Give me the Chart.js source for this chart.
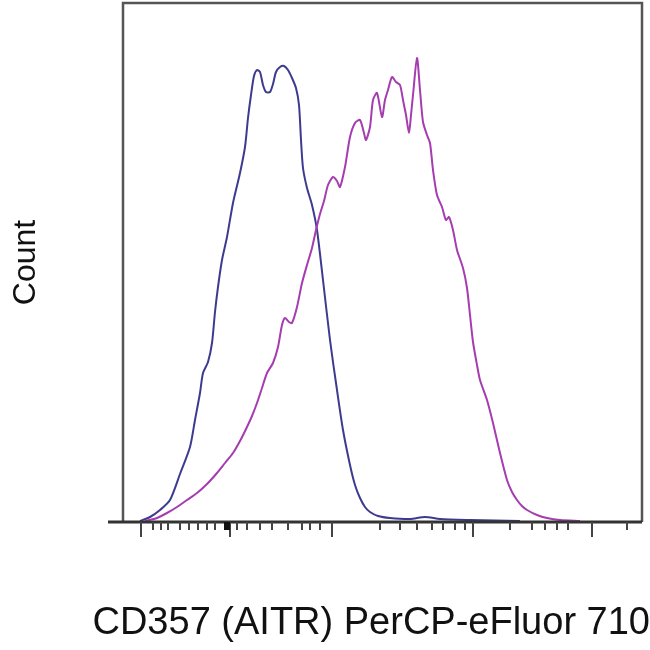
<!DOCTYPE html>
<html>
<head>
<meta charset="utf-8">
<script src="https://cdn.jsdelivr.net/npm/chart.js@4"></script>
<style>
  html, body { margin: 0; padding: 0; background: #fff; }
  #wrap { width: 650px; height: 650px; }
</style>
</head>
<body>
<div id="wrap"><canvas id="chart"></canvas></div>
<script>
// 1. 데이터: 채널(x) / 카운트(y)
const blueX = [17, 27, 37, 47, 57, 67, 72, 77, 80, 85, 89, 92, 95, 99, 104, 110, 117, 122, 125, 128, 131, 134, 137, 140, 143, 147, 150, 153, 157, 161, 165, 169, 173, 176, 178, 180, 184, 189, 194, 200, 207, 214, 220, 227, 232, 237, 242, 247, 255, 267, 287, 302, 317, 347, 397];
const blueY = [1, 5, 12, 22, 48, 75, 102, 129, 149, 160, 179, 210, 235, 262, 285, 319, 349, 375, 404, 427, 446, 452, 450, 437, 430, 430, 438, 450, 455, 456, 452, 444, 434, 417, 382, 354, 334, 317, 292, 242, 182, 132, 92, 57, 37, 24, 15, 10, 6, 4, 3, 5, 3, 2, 1];

const purpleX = [22, 34, 44, 54, 64, 74, 84, 94, 102, 110, 117, 124, 129, 134, 139, 144, 150, 155, 159, 162, 166, 169, 174, 179, 184, 189, 193, 197, 201, 205, 210, 214, 217, 222, 227, 232, 237, 241, 243, 247, 250, 254, 259, 262, 265, 269, 273, 277, 280, 283, 286, 288, 290, 294, 297, 300, 304, 307, 310, 314, 319, 323, 326, 330, 334, 340, 344, 347, 350, 354, 357, 364, 370, 377, 384, 389, 394, 399, 404, 414, 424, 437, 457];
const purpleY = [1, 4, 9, 15, 22, 29, 38, 49, 59, 69, 81, 95, 106, 119, 134, 149, 159, 175, 197, 204, 200, 199, 215, 239, 257, 274, 292, 308, 321, 337, 345, 341, 335, 355, 385, 399, 402, 389, 382, 395, 422, 429, 405, 422, 432, 445, 440, 437, 422, 407, 389, 407, 427, 464, 432, 400, 387, 379, 352, 327, 315, 302, 305, 292, 272, 254, 234, 207, 180, 157, 142, 122, 99, 69, 42, 30, 22, 16, 12, 7, 4, 2, 1];

// 눈금 위치 (채널 단위)
const majorTicks = [18, 107, 209, 350, 469];
const minorTicks = [30, 38, 45, 57, 66, 75, 84, 92, 114, 124, 137, 149, 165, 179, 187, 197, 257, 277, 294, 309, 320, 332, 342, 387, 409, 422, 434, 445, 504];
const markTicks = [107]; // 굵은 검은 표시

const xTitle = "CD357 (AITR) PerCP-eFluor 710";
const yTitle = "Count";

function toPoints(xs, ys) {
    return xs.map((x, i) => ({x: x, y: ys[i]}));
}

// 2. 테두리와 x축 눈금 그리기
const framePlugin = {
    id: "frame",
    afterDraw(chart) {
        const {ctx, chartArea: a, scales} = chart;
        ctx.save();
        ctx.strokeStyle = "#555";
        ctx.lineWidth = 2.5;
        ctx.beginPath();
        ctx.moveTo(a.left, a.bottom);
        ctx.lineTo(a.left, a.top);
        ctx.lineTo(a.right, a.top);
        ctx.lineTo(a.right, a.bottom);
        ctx.stroke();

        // 아래 축선 (왼쪽으로 조금 더 길게)
        ctx.strokeStyle = "#333";
        ctx.lineWidth = 3;
        ctx.beginPath();
        ctx.moveTo(a.left - 15, a.bottom);
        ctx.lineTo(a.right, a.bottom);
        ctx.stroke();

        const drawTick = (v, len, w, color) => {
            const px = scales.x.getPixelForValue(v);
            ctx.strokeStyle = color;
            ctx.lineWidth = w;
            ctx.beginPath();
            ctx.moveTo(px, a.bottom);
            ctx.lineTo(px, a.bottom + len);
            ctx.stroke();
        };
        majorTicks.forEach(v => drawTick(v, 15, 2, "#444"));
        minorTicks.forEach(v => drawTick(v, 8, 2, "#444"));
        markTicks.forEach(v => drawTick(v - 3, 8, 6, "#111"));
        ctx.restore();
    }
};

new Chart(document.querySelector("#chart"), {
    type: "line",
    data: {
        datasets: [
            {
                data: toPoints(purpleX, purpleY),
                borderColor: "#a53caf", borderWidth: 2,
                pointRadius: 0, tension: 0.25,
            },
            {
                data: toPoints(blueX, blueY),
                borderColor: "#3d3b8f", borderWidth: 2,
                pointRadius: 0, tension: 0.25,
            },
        ],
    },
    options: {
        responsive: true,
        maintainAspectRatio: false,
        animation: false,
        layout: {padding: {top: 3, right: 0, left: 0, bottom: 0}},
        plugins: {
            legend: {display: false},
            tooltip: {enabled: false},
            // x축 이름: 캔버스 전체 폭을 쓰도록 제목 플러그인 사용
            title: {
                display: true, position: "bottom", align: "end",
                text: xTitle, color: "#111",
                font: {family: "Liberation Sans, Arial, sans-serif", size: 38, weight: "normal"},
                padding: {top: 0, bottom: 4},
            },
        },
        scales: {
            x: {
                type: "linear", min: 0, max: 519,
                grid: {display: false}, border: {display: false},
                ticks: {display: false},
                afterFit: s => { s.height = 78.4; },
            },
            y: {
                min: 0, max: 519,
                grid: {display: false}, border: {display: false},
                ticks: {display: false},
                afterFit: s => { s.width = 123; },
                title: {
                    display: true, text: yTitle, color: "#111",
                    font: {family: "Liberation Sans, Arial, sans-serif", size: 32},
                    padding: {top: 7, bottom: 0},
                },
            },
            // 오른쪽 여백용 빈 축
            yRight: {
                axis: "y", position: "right",
                grid: {display: false}, border: {display: false},
                ticks: {display: false},
                afterFit: s => { s.width = 8; },
            },
        },
    },
    plugins: [framePlugin],
});
</script>
</body>
</html>
